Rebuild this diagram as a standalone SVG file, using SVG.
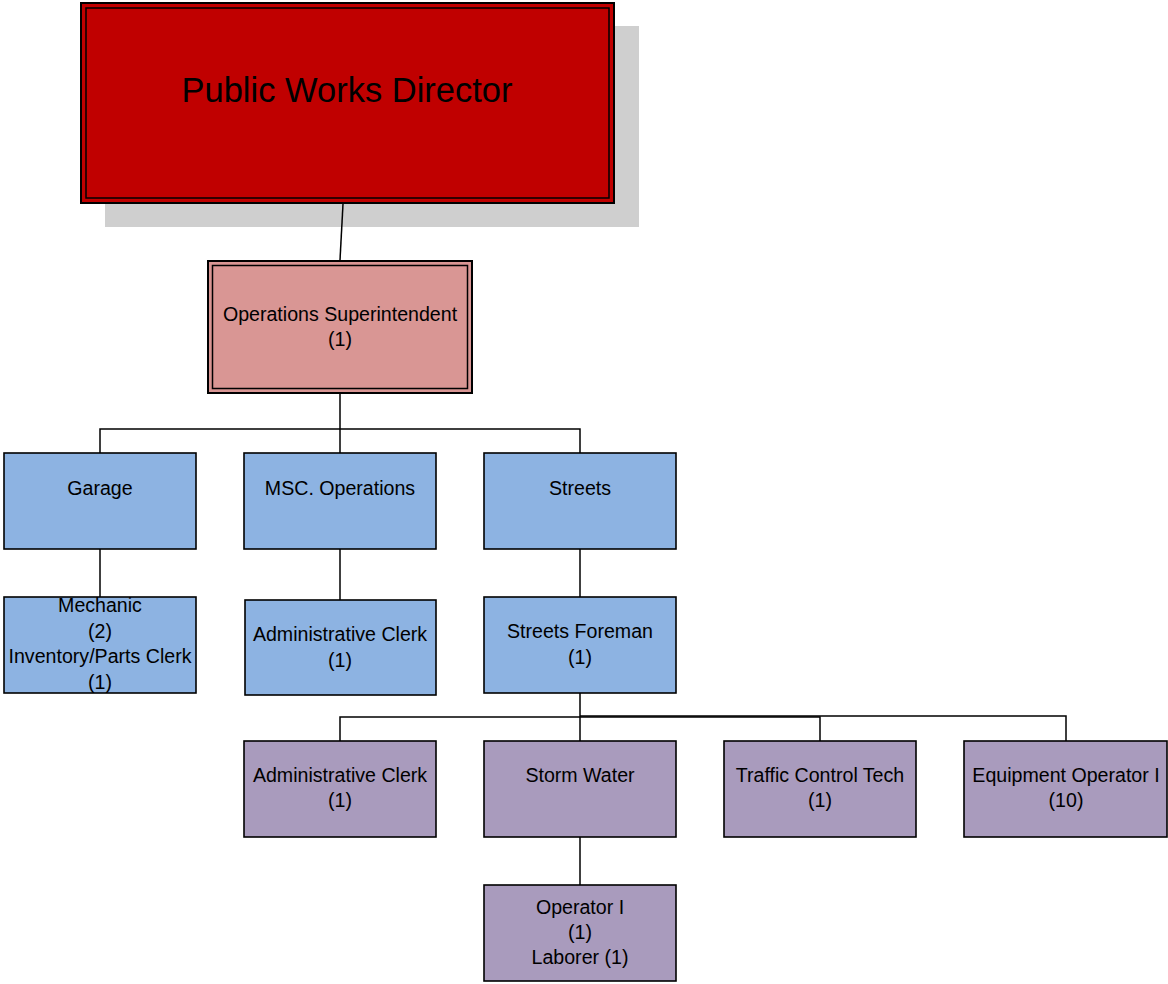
<svg xmlns="http://www.w3.org/2000/svg" width="1168" height="984" viewBox="0 0 1168 984">
  <style>
    .t { font-family: "Liberation Sans", Arial, sans-serif; font-size: 19.6px; fill: #000; text-anchor: middle; }
    .big { font-family: "Liberation Sans", Arial, sans-serif; font-size: 34.5px; fill: #000; text-anchor: middle; }
    .box { stroke: #000; stroke-width: 1.6; }
    .blue { fill: #8DB3E2; }
    .purple { fill: #A99BBD; }
    .conn { stroke: #000; stroke-width: 1.5; fill: none; }
  </style>
  <rect width="1168" height="984" fill="#fff"/>

  <!-- top: director with drop shadow -->
  <g id="director">
    <rect x="105" y="26" width="534" height="201" fill="#CFCFCF"/>
    <rect x="81" y="3" width="533" height="200" fill="#C00000" stroke="#000" stroke-width="2"/>
    <rect x="86" y="8" width="523" height="190" fill="none" stroke="#000" stroke-width="1.5"/>
    <text class="big" x="347" y="102">Public Works Director</text>
  </g>

  <g id="superintendent">
    <rect x="208" y="261" width="264" height="132" fill="#D99694" stroke="#000" stroke-width="2"/>
    <rect x="212.5" y="265.5" width="255" height="123" fill="none" stroke="#000" stroke-width="1.5"/>
    <text class="t" x="340" y="321">Operations Superintendent</text>
    <text class="t" x="340" y="346">(1)</text>
  </g>

  <!-- divisions -->
  <g id="garage">
    <rect class="box blue" x="4" y="453" width="192" height="96"/>
    <text class="t" x="100" y="495">Garage</text>
  </g>
  <g id="msc-operations">
    <rect class="box blue" x="244" y="453" width="192" height="96"/>
    <text class="t" x="340" y="495">MSC. Operations</text>
  </g>
  <g id="streets">
    <rect class="box blue" x="484" y="453" width="192" height="96"/>
    <text class="t" x="580" y="495">Streets</text>
  </g>

  <g id="mechanic">
    <rect class="box blue" x="4" y="597" width="192" height="96"/>
    <text class="t" x="100" y="612">Mechanic</text>
    <text class="t" x="100" y="638">(2)</text>
    <text class="t" x="100" y="663">Inventory/Parts Clerk</text>
    <text class="t" x="100" y="689">(1)</text>
  </g>
  <g id="msc-admin-clerk">
    <rect class="box blue" x="245" y="600" width="191" height="95"/>
    <text class="t" x="340" y="641">Administrative Clerk</text>
    <text class="t" x="340" y="667">(1)</text>
  </g>
  <g id="streets-foreman">
    <rect class="box blue" x="484" y="597" width="192" height="96"/>
    <text class="t" x="580" y="638">Streets Foreman</text>
    <text class="t" x="580" y="664">(1)</text>
  </g>

  <!-- streets crews -->
  <g id="streets-admin-clerk">
    <rect class="box purple" x="244" y="741" width="192" height="96"/>
    <text class="t" x="340" y="782">Administrative Clerk</text>
    <text class="t" x="340" y="807">(1)</text>
  </g>
  <g id="storm-water">
    <rect class="box purple" x="484" y="741" width="192" height="96"/>
    <text class="t" x="580" y="782">Storm Water</text>
  </g>
  <g id="traffic-control">
    <rect class="box purple" x="724" y="741" width="192" height="96"/>
    <text class="t" x="820" y="782">Traffic Control Tech</text>
    <text class="t" x="820" y="807">(1)</text>
  </g>
  <g id="equipment-operator">
    <rect class="box purple" x="964" y="741" width="203" height="96"/>
    <text class="t" x="1066" y="782">Equipment Operator I</text>
    <text class="t" x="1066" y="807">(10)</text>
  </g>
  <g id="operator">
    <rect class="box purple" x="484" y="885" width="192" height="96"/>
    <text class="t" x="580" y="914">Operator I</text>
    <text class="t" x="580" y="939">(1)</text>
    <text class="t" x="580" y="964">Laborer (1)</text>
  </g>

  <!-- connectors, drawn over the shadow -->
  <g id="connectors">
    <line class="conn" x1="343" y1="204" x2="340" y2="260"/>
    <path class="conn" d="M340 393 V429 M100 453 V429 H580 V453 M340 429 V453"/>
    <line class="conn" x1="100" y1="549" x2="100" y2="597"/>
    <line class="conn" x1="340" y1="549" x2="340" y2="600"/>
    <line class="conn" x1="580" y1="549" x2="580" y2="597"/>
    <path class="conn" d="M580 693 V741 M340 741 V717 H820 V741"/>
    <path class="conn" d="M580 716 H1066 V741"/>
    <line class="conn" x1="580" y1="837" x2="580" y2="885"/>
  </g>
</svg>
